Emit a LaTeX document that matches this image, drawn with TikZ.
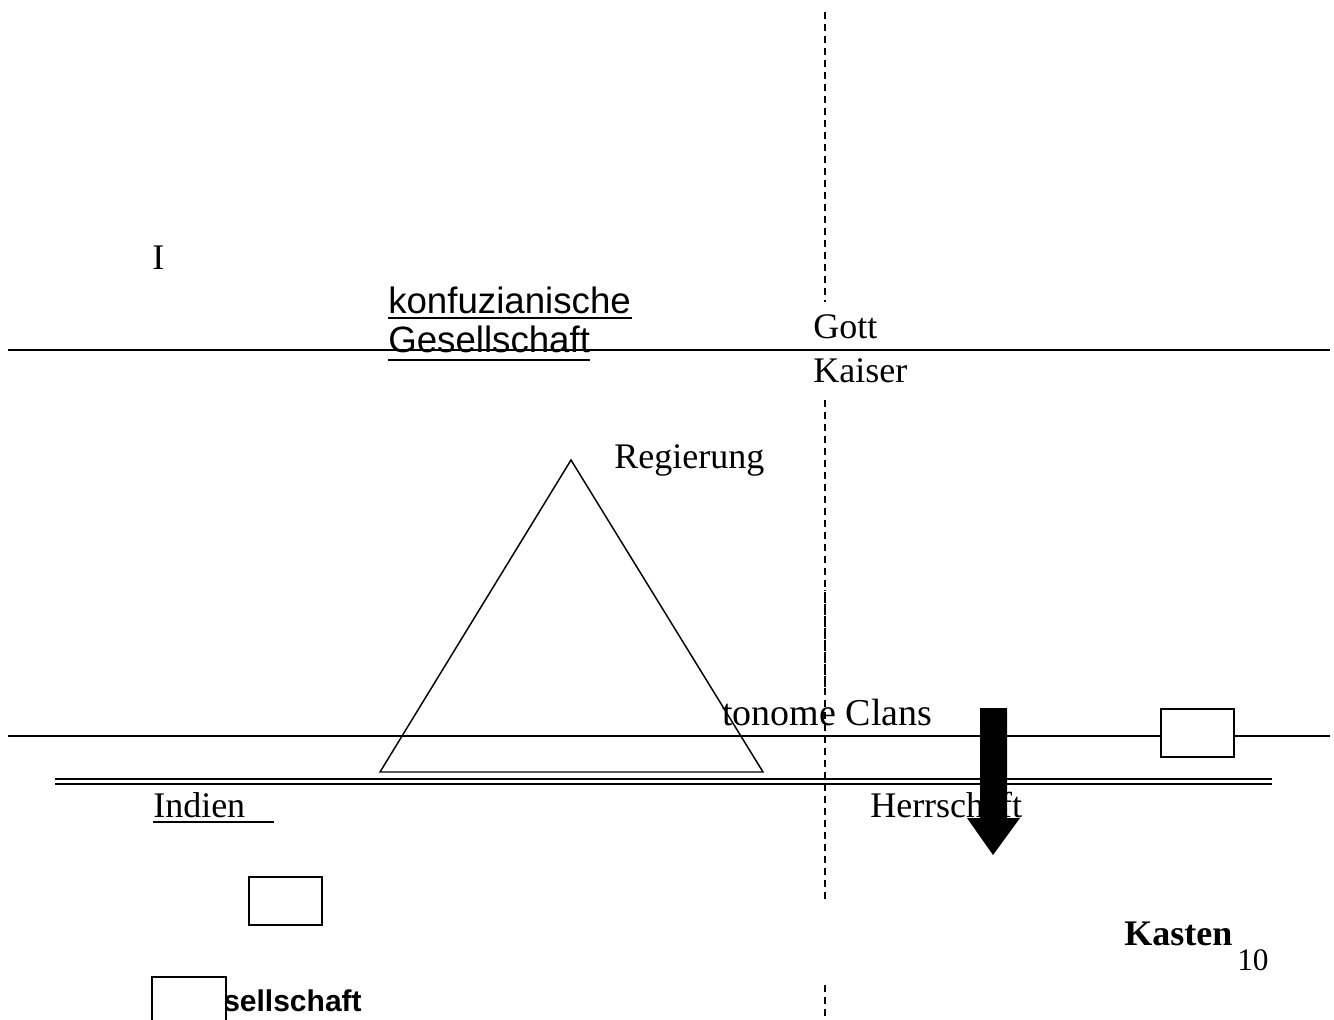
\documentclass[tikz,border=0pt]{standalone}
\usepackage{fontspec}
\setmainfont{Liberation Serif}
\setsansfont{Liberation Sans}
\begin{document}
\begin{tikzpicture}[x=0.75pt,y=-0.75pt,
  thin line/.style={line width=1.1pt},
  dline/.style={line width=1.1pt,dash pattern=on 5.5pt off 3.5pt},
  txt/.style={anchor=base west,inner sep=0pt,font=\fontsize{27}{32}\selectfont},
  stxt/.style={anchor=base west,inner sep=0pt,font=\sffamily\fontsize{27.5}{32}\selectfont},
  box/.style={draw,line width=1.1pt,fill=white}]
\useasboundingbox (0,0) rectangle (1334,1020);
% horizontal lines
\draw[thin line] (8,350) -- (1330,350);
\draw[thin line] (8,736) -- (1330,736);
\draw[line width=1.6pt] (55,779) -- (1272,779);
\draw[line width=1.6pt] (55,784) -- (1272,784);
% vertical dashed line
\draw[dline] (825,12) -- (825,302);
\draw[dline] (825,400) -- (825,902);
\draw[dline] (825,985) -- (825,1020);
\draw[dline,dash phase=4.5pt] (825,590) -- (825,690);
% triangle
\draw[thin line,line join=miter] (571,460) -- (763,772) -- (380,772) -- cycle;
% texts
\node[txt] (I) at (152,269) {I};
\node[stxt] (konf) at (388,313) {konfuzianische};
\node[stxt] (ges) at (388,352) {Gesellschaft};
\draw[line width=2.2pt] (388,318) -- (632,318);
\draw[line width=2.2pt] (388,360) -- (590,360);
\node[txt] (gott) at (813,338) {Gott};
\node[txt] (kaiser) at (813,382) {Kaiser};
\node[txt] (reg) at (614,468) {Regierung};
\node[txt,font=\fontsize{28.5}{32}\selectfont] (clans) at (722,725) {tonome Clans};
\node[txt] (herr) at (870,817) {Herrschaft};
\node[txt] (indien) at (153,817) {Indien};
\draw[line width=1.5pt] (153,822) -- (274,822);
\node[txt,font=\bfseries\fontsize{27}{32}\selectfont] (kasten) at (1124,945) {Kasten};
\node[txt,font=\fontsize{23.5}{26}\selectfont] (zehn) at (1237,970) {10};
\node[anchor=base west,inner sep=0pt,font=\sffamily\bfseries\fontsize{22.5}{26}\selectfont] (gs) at (223,1011) {sellschaft};
% boxes
\draw[box] (1161,709) rectangle (1234,757);
\draw[box] (249,877) rectangle (322,925);
\draw[box] (152,977) rectangle (226,1030);
% arrow
\fill (980,708) -- (1007,708) -- (1007,818) -- (1020,818) -- (993,855) -- (967,818) -- (980,818) -- cycle;
\end{tikzpicture}
\end{document}
